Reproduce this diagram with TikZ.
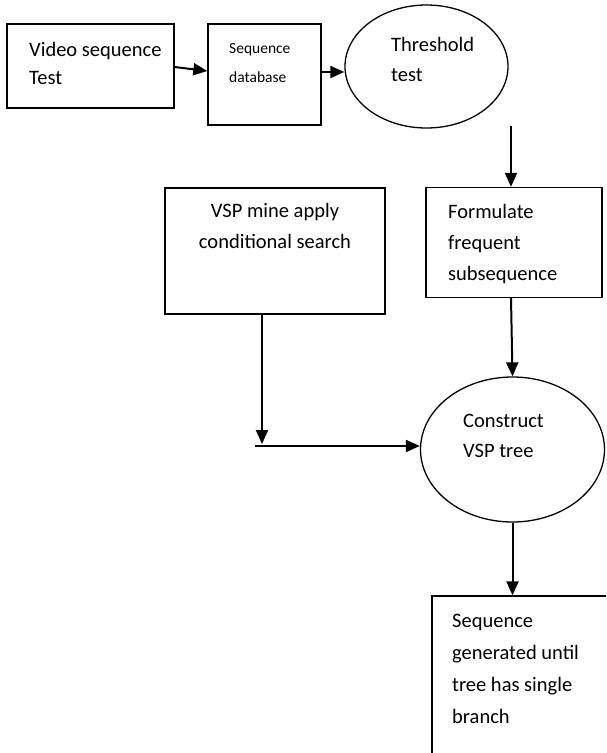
\documentclass[tikz,border=0pt]{standalone}
\usepackage{fontspec}
\setmainfont{Carlito}
\usetikzlibrary{arrows.meta,shapes.geometric}
\tikzset{
  shape box/.style={draw=black, line width=1.3pt, rectangle, inner sep=0pt},
  shape oval/.style={draw=black, line width=1.3pt, ellipse, inner sep=0pt},
  lbl/.style={inner sep=0pt, align=left, anchor=base west, font=\fontsize{20.5}{30}\selectfont},
  lblsmall/.style={inner sep=0pt, align=left, anchor=base west, font=\fontsize{15.5}{29}\selectfont},
  conn/.style={line width=2pt, -{Triangle[length=14pt,width=12pt]}}
}
\begin{document}
\begin{tikzpicture}[x=1pt,y=-1pt]
\useasboundingbox (0,0) rectangle (606,753);
% shapes
\node[shape box, minimum width=167pt, minimum height=84pt] (b1) at (90.5,66) {};
\node[shape box, minimum width=113pt, minimum height=101pt] (b2) at (264.5,74.5) {};
\node[shape oval, minimum width=163pt, minimum height=123pt] (e1) at (426.5,66.5) {};
\node[shape box, minimum width=220pt, minimum height=126pt] (b3) at (275,251) {};
\node[shape box, minimum width=176pt, minimum height=110pt] (b4) at (514,242.5) {};
\node[shape oval, minimum width=184pt, minimum height=145pt] (e2) at (512.5,449.5) {};
\begin{scope}
\clip (0,0) rectangle (606,753);
\node[shape box, minimum width=208pt, minimum height=205pt] (b5) at (536,698.5) {};
\end{scope}
% texts (anchored at the baseline of the last line)
\node[lbl, font=\fontsize{20.5}{28}\selectfont] (t1) at (29,84) {Video sequence\\Test};
\node[lblsmall] (t2) at (229,82) {Sequence\\database};
\node[lbl] (t3) at (391,81) {Threshold\\test};
\node[lbl, align=center, anchor=base, font=\fontsize{20.5}{31}\selectfont] (t4) at (275,248) {VSP mine apply\\conditional search};
\node[lbl, font=\fontsize{20.5}{31}\selectfont] (t5) at (448,280) {Formulate\\frequent\\subsequence};
\node[lbl] (t6) at (463,457) {Construct\\VSP tree};
\node[lbl, font=\fontsize{20.5}{32}\selectfont] (t7) at (452,723) {Sequence\\generated until\\tree has single\\branch};
% connectors
\coordinate (c1) at (262,444);
\coordinate (c2) at (255,446);
\coordinate (c3) at (511,126);
\draw[conn] (b1.east |- 0,67) -- (b2.west |- 0,71);
\draw[conn] (b2.east |- 0,72) -- (e1.west |- 0,72);
\draw[conn] (c3) -- (b4.north -| c3);
\draw[conn] (b4.south -| c3) -- (e2.north);
\draw[conn] (b3.south -| c1) -- (c1);
\draw[conn] (c2) -- (e2.west |- c2);
\draw[conn] (e2.south) -- (b5.north -| e2.south);
\end{tikzpicture}
\end{document}
